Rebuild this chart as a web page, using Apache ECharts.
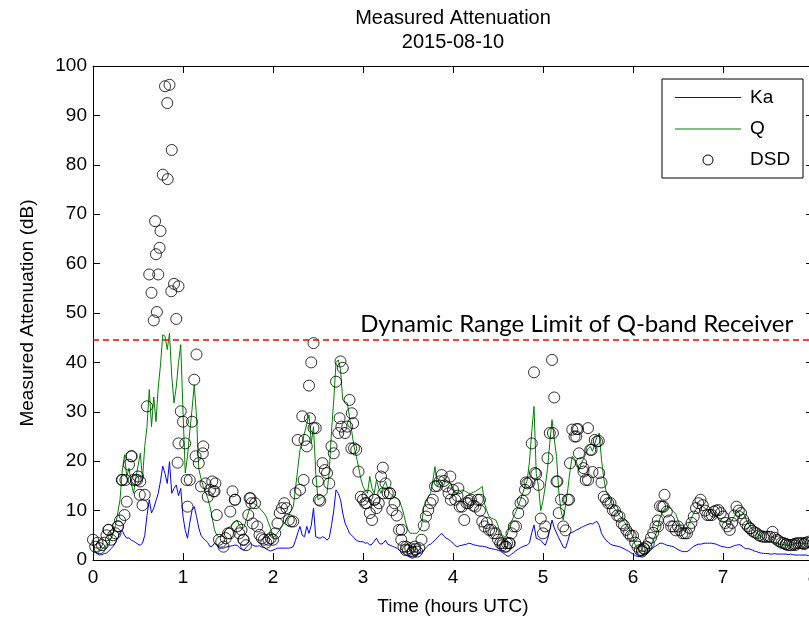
<!DOCTYPE html>
<html><head><meta charset="utf-8">
<script src="https://cdn.jsdelivr.net/npm/echarts@6/dist/echarts.min.js"></script>
<style>html,body{margin:0;padding:0;background:#fff}#c{width:809px;height:620px}</style>
</head><body><div id="c"></div>
<script>
// time grid spacing of the Ka / Q / DSD samples (hours UTC)
const STEP = 0.025;
const xTicks = [0,1,2,3,4,5,6,7,8];
const yTicks = [0,10,20,30,40,50,60,70,80,90,100];
const LIMIT_DB = 44.6;

const ka = [
2.0,1.5,1.2,1.0,1.1,1.3,1.4,1.8,2.3,2.8,3.5,4.5,5.5,6.0,5.0,4.4,4.5,4.0,3.8,3.5,
3.2,3.0,3.4,5.0,9.0,12.2,9.5,10.5,12.0,13.5,16.0,19.0,17.5,15.5,19.9,13.5,14.5,15.2,13.0,14.5,
8.8,6.0,4.4,7.5,10.0,10.8,8.8,6.5,5.0,4.4,4.0,3.5,2.7,2.8,3.4,3.0,2.4,2.4,2.4,2.6,
2.7,2.8,2.9,3.0,3.0,2.5,2.2,2.0,2.5,3.0,3.4,3.0,2.8,2.8,2.9,2.6,2.6,2.2,2.0,1.8,
2.0,2.2,2.4,2.4,2.4,2.4,2.4,2.4,2.5,2.7,4.0,5.5,6.8,5.0,4.7,6.8,5.4,7.0,10.5,4.7,
4.5,4.4,4.7,4.5,4.0,4.5,7.0,10.0,14.2,13.5,12.2,9.5,7.5,6.5,5.4,5.0,4.5,4.0,3.8,3.7,
3.7,3.4,3.5,3.0,3.2,3.8,4.4,3.5,3.2,3.4,4.0,3.2,3.0,2.8,2.6,2.4,2.0,1.6,1.4,1.0,
0.8,0.7,0.8,0.9,1.0,1.3,1.7,2.0,2.5,3.0,3.2,3.6,4.0,4.5,5.0,5.4,4.8,4.4,4.2,3.8,
3.4,2.9,2.7,2.9,3.0,3.1,3.2,3.4,3.3,3.1,3.0,2.9,2.8,2.8,2.7,2.6,2.4,2.3,2.2,2.1,
2.0,1.8,1.5,1.2,0.8,0.8,1.2,1.5,1.9,2.2,2.5,2.7,2.9,3.0,3.5,5.5,7.1,4.4,4.2,4.0,
3.4,3.0,4.2,6.0,8.1,6.5,5.5,4.5,3.6,2.6,2.4,3.8,5.4,5.6,5.8,6.1,6.3,6.6,6.8,7.0,
7.2,7.4,7.3,7.6,7.8,7.0,5.4,4.6,4.0,3.6,3.2,3.0,2.9,2.8,2.7,2.5,2.3,2.0,1.8,1.5,
1.2,0.9,0.7,0.7,0.8,1.0,1.3,1.7,2.1,2.5,2.8,3.1,3.4,3.4,3.2,3.0,2.9,2.8,2.7,2.4,
2.1,1.9,1.7,1.7,1.7,2.0,2.4,2.8,3.0,3.2,3.2,3.3,3.4,3.4,3.4,3.4,3.3,3.2,3.0,2.8,
2.7,2.6,2.5,2.5,2.7,2.9,3.0,3.1,3.0,2.6,2.3,2.3,2.2,2.0,1.8,1.7,1.5,1.4,1.35,1.3,
1.3,1.2,1.2,1.3,1.2,1.2,1.2,1.2,1.2,1.1,1.2,1.1,1.0,1.0,1.0,1.0,1.0,1.0,0.9,0.9,
0.9];

const q = [
1.7,1.5,1.4,1.8,2.2,2.6,3.0,3.6,4.3,5.5,7.0,9.5,12.2,18.0,21.3,16.9,18.6,15.5,13.5,16.5,
19.0,21.6,16.5,23.0,27.0,34.5,27.0,33.0,28.0,35.0,39.5,45.6,45.3,42.6,45.9,37.2,31.8,35.0,40.0,43.6,
30.0,17.6,21.0,26.0,30.4,35.5,29.1,18.5,16.5,14.9,13.8,12.5,10.8,8.5,6.1,5.0,4.7,5.0,5.4,6.0,
6.5,6.8,7.2,7.7,8.1,7.0,6.5,6.5,8.0,9.5,11.0,11.8,11.2,11.0,10.5,10.0,9.5,8.8,7.5,6.3,
4.5,5.0,5.5,6.1,7.0,7.5,8.1,9.0,10.0,10.8,14.5,18.5,22.3,24.0,25.7,27.5,29.4,23.6,27.0,17.6,
12.2,12.5,12.8,13.0,13.5,18.0,26.0,32.4,40.0,40.5,38.5,32.4,32.0,31.8,29.0,26.0,23.0,21.0,18.9,16.5,
14.9,14.0,13.5,16.9,14.5,13.5,16.2,14.5,13.5,15.0,15.9,14.5,13.5,13.0,12.8,12.5,12.2,11.0,9.5,7.5,
6.1,5.4,5.4,5.4,5.4,6.0,6.8,10.8,11.8,12.8,13.5,16.0,18.9,14.9,15.5,16.2,16.0,15.8,15.6,15.5,
14.5,13.8,13.5,13.8,14.2,14.0,13.8,13.5,13.5,13.7,13.9,14.2,14.5,14.9,11.5,10.0,8.8,8.5,8.3,8.1,
7.0,5.4,5.0,4.7,5.0,6.8,7.8,8.8,9.8,11.0,12.2,13.5,15.0,16.2,20.0,26.0,31.1,17.5,14.9,10.0,
12.0,14.9,18.5,23.6,28.4,24.5,21.0,14.0,10.0,8.1,11.0,14.2,18.0,21.0,20.5,19.6,18.2,19.5,20.5,21.5,
22.5,23.0,22.0,23.5,25.0,25.7,20.3,16.5,14.0,13.0,12.0,11.0,10.3,9.8,9.0,8.5,7.8,7.2,6.5,5.8,
4.5,3.0,2.4,2.0,1.7,1.8,2.0,2.4,3.0,4.0,5.0,6.5,8.5,9.5,10.0,10.5,10.8,10.2,9.8,9.3,
8.0,7.0,6.2,5.7,6.5,7.4,8.5,9.5,10.2,11.0,11.1,10.8,10.5,10.0,9.6,9.4,9.2,9.0,8.5,8.0,
7.8,7.6,7.4,7.4,8.0,8.8,9.5,10.1,9.8,9.5,8.5,7.5,6.8,6.2,5.8,5.5,5.0,4.7,4.4,4.0,
3.8,3.7,3.6,3.5,3.4,3.3,3.2,3.1,3.0,3.0,3.1,3.2,3.3,3.4,3.4,3.4,3.4,3.4,3.3,3.3,
3.3];

const dsd = [
4.1,2.7,3.5,2.4,3.0,3.5,5.0,6.1,4.1,5.0,5.4,6.8,8.0,16.2,9.1,11.8,19.3,21.0,16.2,16.2,
16.9,15.9,11.1,13.2,31.1,57.8,54.1,48.5,61.9,57.8,66.6,78.0,95.9,92.5,96.2,83.0,55.9,48.8,55.4,30.1,
28.0,23.6,10.8,16.2,28.0,36.5,41.6,19.6,14.9,23.0,15.5,12.8,14.2,15.9,13.9,9.1,4.1,3.7,2.7,4.4,
5.4,9.8,13.9,12.2,6.8,5.4,6.1,4.1,3.0,9.1,12.5,7.4,11.5,6.8,5.1,4.4,4.1,3.5,4.1,4.4,
4.1,5.4,7.4,9.5,10.5,11.5,10.5,8.1,7.8,7.8,13.5,24.3,14.2,29.1,24.3,23.0,35.3,40.0,43.9,26.7,
15.9,12.0,19.6,18.2,17.6,15.5,23.0,21.6,36.1,25.7,40.2,38.9,25.7,27.0,32.4,29.7,22.6,22.3,17.9,12.8,
12.2,11.5,13.0,9.5,8.1,12.2,10.5,11.5,16.9,13.5,15.5,13.5,13.5,10.1,11.5,9.0,6.1,4.1,2.7,2.0,
2.0,2.4,1.7,2.7,1.7,2.4,4.1,7.0,8.8,10.1,11.5,12.2,14.9,15.0,15.9,17.2,16.0,14.9,13.5,12.2,
14.2,12.2,13.0,10.8,10.8,8.1,11.5,12.0,12.2,11.0,10.8,12.2,10.0,7.8,6.8,7.5,6.1,6.1,5.4,5.4,
4.1,3.4,3.0,2.7,3.4,3.4,5.4,6.8,6.8,9.5,11.5,12.0,14.2,15.5,15.7,23.6,38.0,17.4,15.2,8.4,
5.4,6.8,20.6,25.7,40.5,32.9,15.9,9.5,12.2,6.8,6.0,12.2,19.6,26.4,25.0,26.5,21.6,19.6,17.9,16.2,
26.7,22.3,17.8,24.3,24.0,17.6,15.7,12.8,12.2,11.5,11.5,10.1,10.0,9.0,8.8,7.4,7.0,6.1,5.4,4.9,
4.9,3.5,2.7,2.0,2.0,2.2,2.7,3.4,4.5,5.5,6.8,8.0,10.9,10.8,13.2,9.8,8.0,6.8,6.8,6.0,
6.8,6.0,5.4,5.4,5.4,6.5,7.5,8.8,10.5,11.5,12.2,11.1,10.0,9.1,9.1,9.1,9.8,10.0,10.1,9.5,
8.8,7.5,6.8,6.1,7.5,9.0,10.8,10.0,9.5,8.2,7.4,6.8,6.4,5.9,5.6,5.4,5.0,4.8,4.7,4.7,
4.7,4.7,5.7,4.5,4.1,3.8,3.5,3.4,3.2,3.0,3.0,3.1,3.3,3.4,3.4,3.4,3.4,3.5,3.7,3.5,
3.3];

const dsdExtraT = [0.17,0.28,0.32,0.36,0.43,0.49,0.52,0.69,0.71,0.74,0.83,0.87,0.94,0.95,1.04,1.14,1.22,1.34,1.36,1.52,1.58,1.67,1.74,1.76,2.34,2.41,2.45,2.51,2.74,2.76,2.87,2.89,3.04,3.13,3.22,3.30,3.43,3.48,3.55,3.58,3.97,4.06,4.17,4.30,4.55,4.59,4.63,4.81,4.91,5.11,5.16,5.29,5.37,5.39,5.45,5.50,5.54,5.62,6.10,6.12,6.28,6.34,7.30,7.70,7.80,7.90];
const dsdExtraV = [6.1,6.8,16.2,16.2,21.0,16.2,13.2,68.6,50.2,63.2,77.1,54.4,19.7,23.6,16.2,21.0,21.6,13.9,15.5,5.4,12.2,4.1,12.5,11.5,16.2,28.7,26.7,12.2,28.7,27.0,22.6,27.7,11.5,12.2,18.7,13.5,6.1,2.7,1.5,2.2,16.9,14.5,11.5,12.2,3.4,2.7,3.4,15.7,17.6,25.7,15.9,12.2,25.0,26.5,18.6,16.2,22.3,24.1,1.7,2.4,6.8,10.8,6.4,3.2,3.0,3.2];

const legendNames = ['Ka','Q','DSD'];
const titleLines = ['Measured Attenuation','2015-08-10'];
const limitText = 'Dynamic Range Limit of Q-band Receiver';

const toPairs = arr => arr.map((v,i)=>[+(i*STEP).toFixed(4), v]);
const kaData = toPairs(ka);
const qData = toPairs(q);
const dsdData = toPairs(dsd).concat(dsdExtraT.map((t,i)=>[t, dsdExtraV[i]]));

const FONT = '"Liberation Sans", Arial, sans-serif';
const TXT = {fontFamily:FONT, fontSize:19, color:'#000'};
const chart = echarts.init(document.getElementById('c'), null, {renderer:'canvas'});

const axLine = {show:true, onZero:false, lineStyle:{color:'#000', width:1}};
const axTick = {show:true, inside:true, length:7, lineStyle:{color:'#000', width:1}};

chart.setOption({
  animation:false,
  backgroundColor:'#fff',
  title:{text:titleLines.join('\n'), left:453, top:6, textAlign:'center', padding:0,
    textStyle:{fontFamily:FONT, fontSize:20, fontWeight:'normal', color:'#000', lineHeight:24}},
  grid:{left:93, right:-4, top:66, bottom:60, outerBoundsMode:'none', containLabel:false},
  xAxis:[
    {type:'value', min:xTicks[0], max:xTicks[xTicks.length-1], interval:1, position:'bottom',
     name:'Time (hours UTC)', nameLocation:'middle', nameGap:37, nameTextStyle:TXT,
     axisLine:axLine, axisTick:axTick, splitLine:{show:false},
     axisLabel:Object.assign({margin:8, hideOverlap:false}, TXT)},
    {type:'value', min:xTicks[0], max:xTicks[xTicks.length-1], interval:1, position:'top',
     axisLine:axLine, axisTick:axTick, splitLine:{show:false}, axisLabel:{show:false}}
  ],
  yAxis:[
    {type:'value', min:yTicks[0], max:yTicks[yTicks.length-1], interval:10, position:'left',
     name:'Measured Attenuation (dB)', nameLocation:'middle', nameGap:56, nameRotate:90, nameTextStyle:TXT,
     axisLine:axLine, axisTick:axTick, splitLine:{show:false},
     axisLabel:Object.assign({margin:6}, TXT)},
    {type:'value', min:yTicks[0], max:yTicks[yTicks.length-1], interval:10, position:'right',
     axisLine:axLine, axisTick:axTick, splitLine:{show:false}, axisLabel:{show:false}}
  ],
  series:[
    {name:'Ka', type:'line', data:kaData, showSymbol:false, symbol:'none', silent:true, z:2,
     lineStyle:{color:'#0000ff', width:1}},
    {name:'Q', type:'line', data:qData, showSymbol:false, symbol:'none', silent:true, z:3,
     lineStyle:{color:'#008000', width:1},
     markLine:{silent:true, symbol:'none', label:{show:false},
       lineStyle:{color:'#ff0000', width:1.5, type:[6,4]},
       data:[{yAxis:LIMIT_DB}]}},
    {name:'DSD', type:'scatter', data:dsdData, symbol:'circle', symbolSize:11, silent:true, z:4,
     itemStyle:{color:'rgba(0,0,0,0)', borderColor:'#000', borderWidth:1}}
  ]
});

// annotation and MATLAB-style legend
const limPx = chart.convertToPixel({xAxisIndex:0, yAxisIndex:0}, [7.78, LIMIT_DB]);
const lx = 662, ly = 79, lw = 141, lh = 99;
chart.setOption({
  graphic:[
    {type:'text', x:limPx[0], y:limPx[1]-3, z:10, silent:true,
     style:{text:limitText, fontFamily:'Lato, "Open Sans", sans-serif', fontSize:24, fill:'#000',
            textAlign:'right', textVerticalAlign:'bottom'}},
    {type:'rect', x:lx, y:ly, z:20, silent:true, shape:{width:lw, height:lh},
     style:{fill:'#fff', stroke:'#000', lineWidth:1}},
    {type:'line', z:21, silent:true, shape:{x1:lx+13, y1:ly+18.5, x2:lx+79, y2:ly+18.5}, style:{stroke:'#0000ff', lineWidth:1}},
    {type:'line', z:21, silent:true, shape:{x1:lx+13, y1:ly+50, x2:lx+79, y2:ly+50}, style:{stroke:'#008000', lineWidth:1}},
    {type:'circle', z:21, silent:true, shape:{cx:lx+46, cy:ly+81, r:5}, style:{fill:'none', stroke:'#000', lineWidth:1}},
    {type:'text', z:21, silent:true, x:lx+88, y:ly+18.5, style:{text:legendNames[0], fontFamily:FONT, fontSize:19, fill:'#000', textVerticalAlign:'middle'}},
    {type:'text', z:21, silent:true, x:lx+88, y:ly+50, style:{text:legendNames[1], fontFamily:FONT, fontSize:19, fill:'#000', textVerticalAlign:'middle'}},
    {type:'text', z:21, silent:true, x:lx+88, y:ly+81, style:{text:legendNames[2], fontFamily:FONT, fontSize:19, fill:'#000', textVerticalAlign:'middle'}}
  ]
});
</script></body></html>
